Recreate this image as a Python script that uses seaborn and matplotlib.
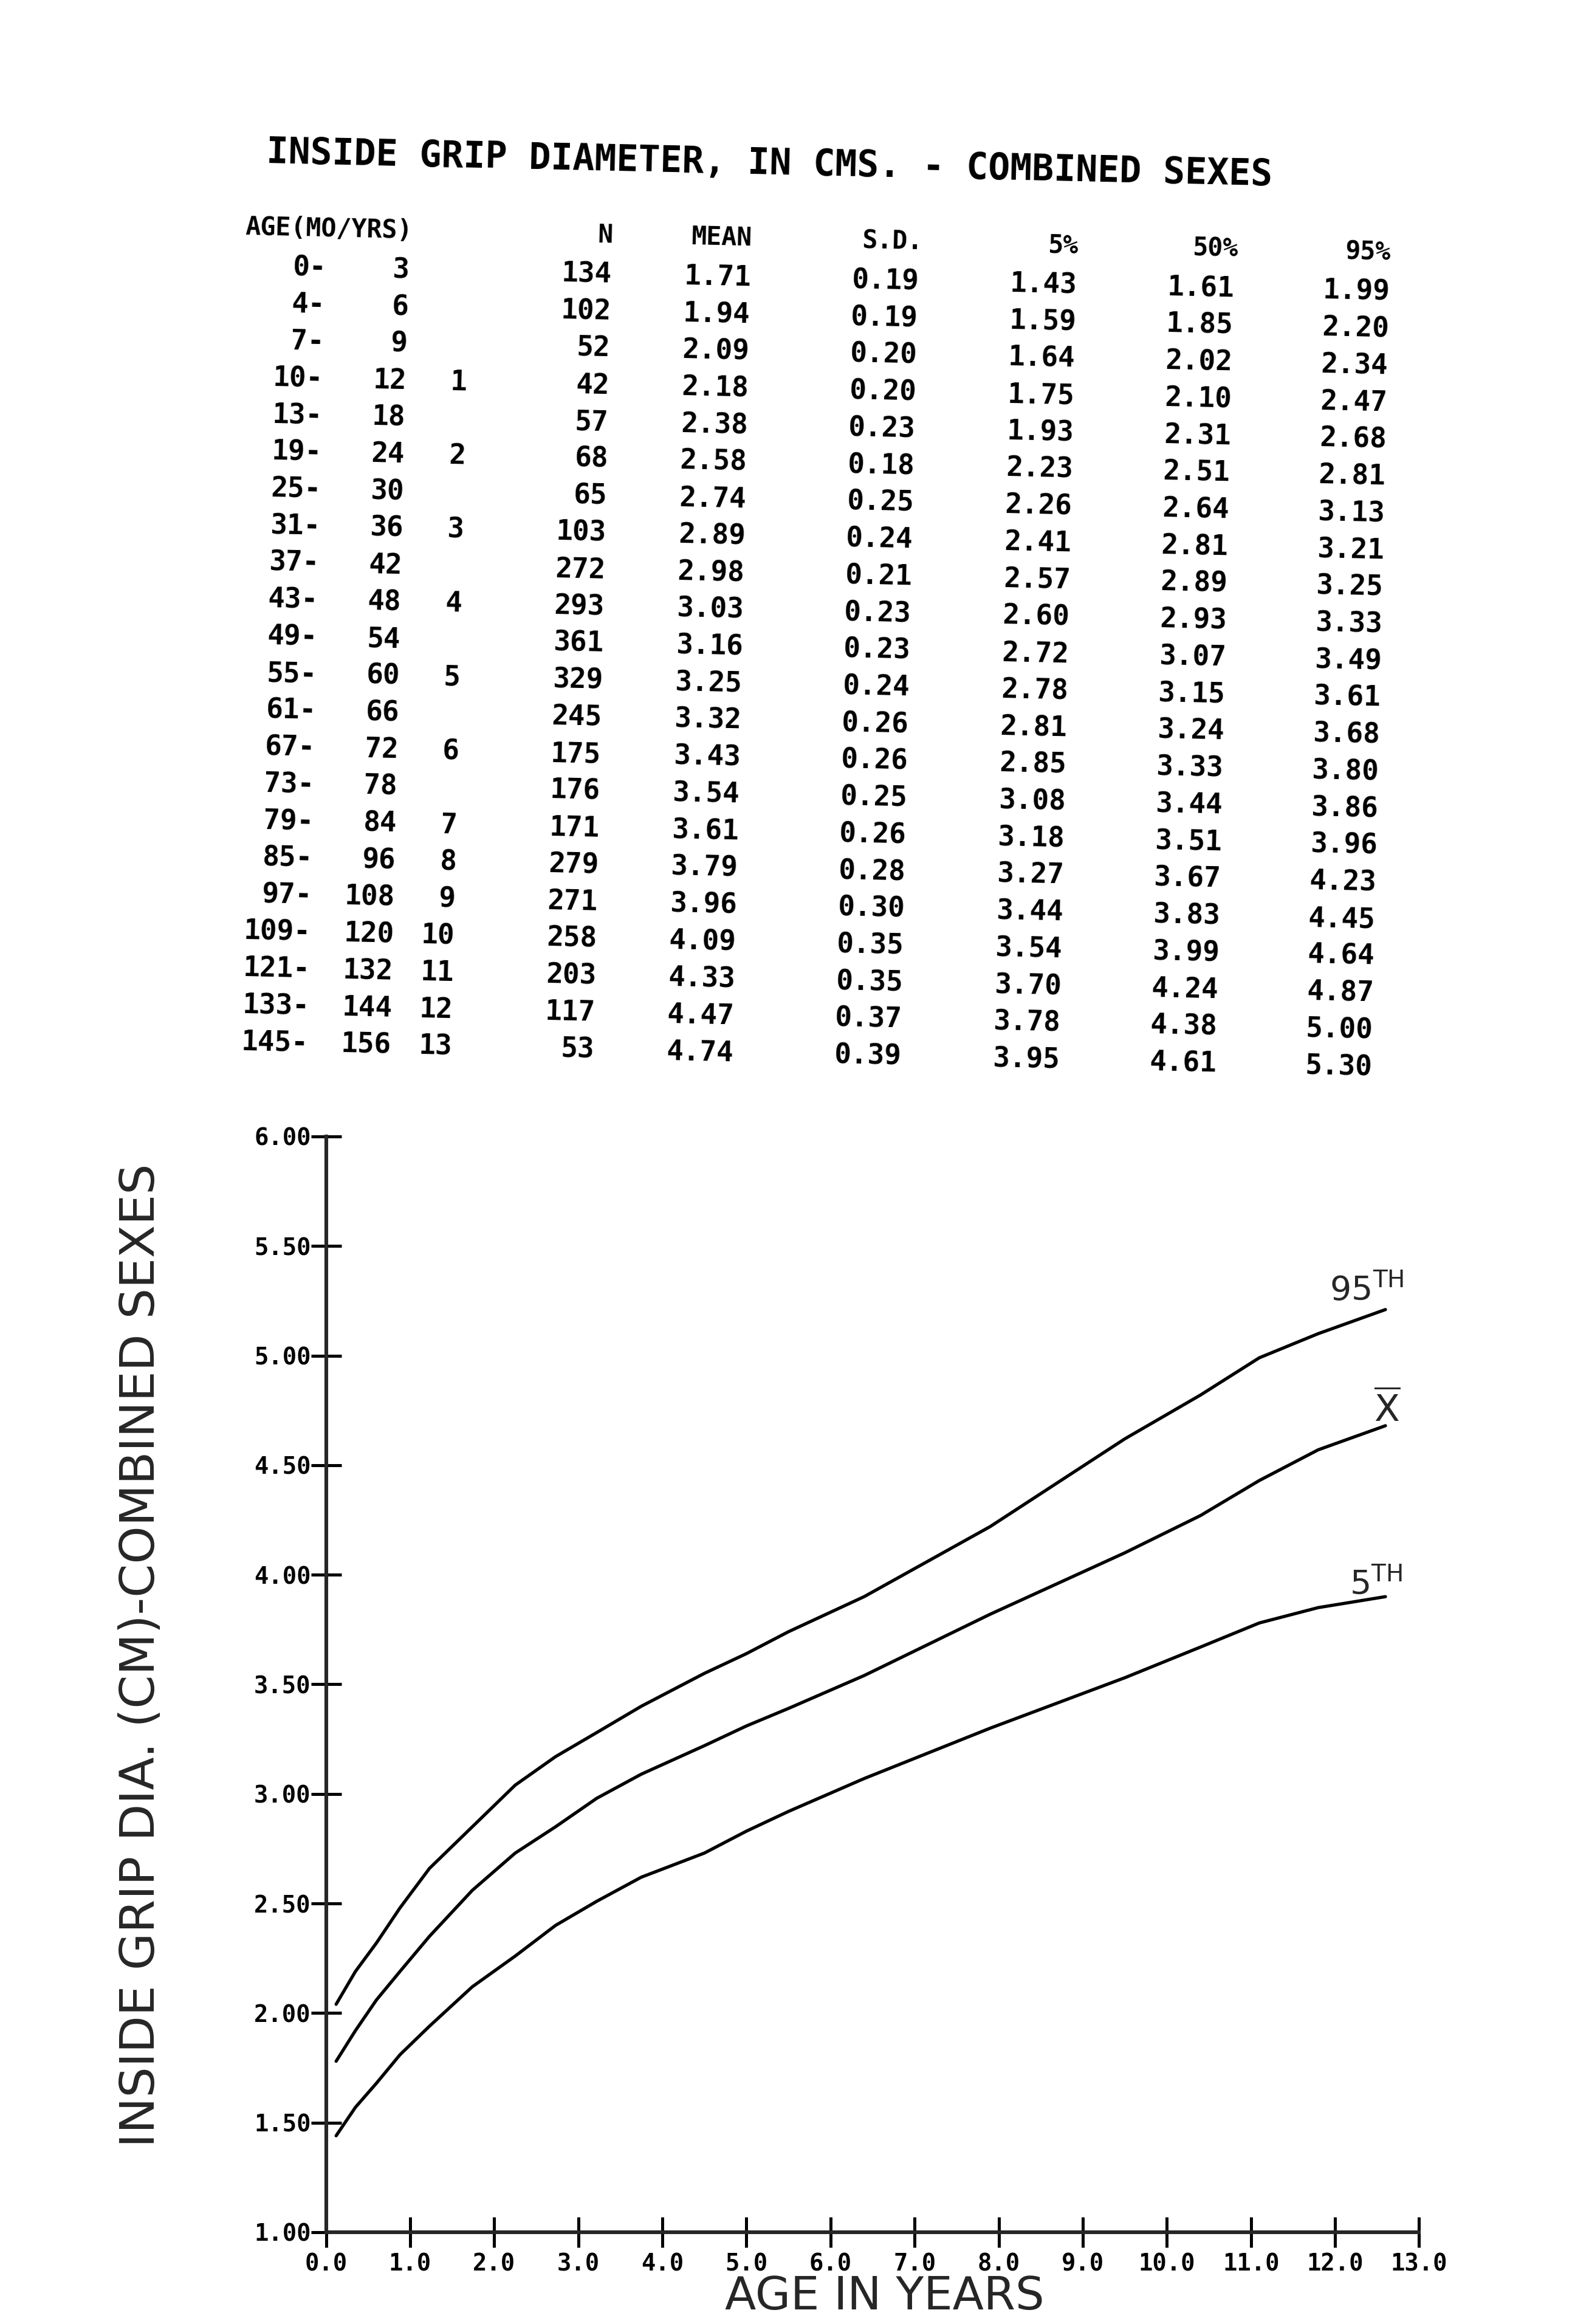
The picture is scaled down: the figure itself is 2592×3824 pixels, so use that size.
import numpy as np
import pandas as pd
import seaborn as sns
import matplotlib.pyplot as plt

# ---- table printed above the chart ----
age_lo = [0, 4, 7, 10, 13, 19, 25, 31, 37, 43, 49, 55, 61, 67, 73, 79, 85, 97, 109, 121, 133, 145]
age_hi = [3, 6, 9, 12, 18, 24, 30, 36, 42, 48, 54, 60, 66, 72, 78, 84, 96, 108, 120, 132, 144, 156]
age_yrs = ["", "", "", "1", "", "2", "", "3", "", "4", "", "5", "", "6", "", "7", "8", "9", "10", "11", "12", "13"]
n_obs = [134, 102, 52, 42, 57, 68, 65, 103, 272, 293, 361, 329, 245, 175, 176, 171, 279, 271, 258, 203, 117, 53]
mean_tab = [1.71, 1.94, 2.09, 2.18, 2.38, 2.58, 2.74, 2.89, 2.98, 3.03, 3.16, 3.25, 3.32, 3.43, 3.54, 3.61, 3.79, 3.96, 4.09, 4.33, 4.47, 4.74]
sd_tab = [0.19, 0.19, 0.20, 0.20, 0.23, 0.18, 0.25, 0.24, 0.21, 0.23, 0.23, 0.24, 0.26, 0.26, 0.25, 0.26, 0.28, 0.30, 0.35, 0.35, 0.37, 0.39]
p5_tab = [1.43, 1.59, 1.64, 1.75, 1.93, 2.23, 2.26, 2.41, 2.57, 2.60, 2.72, 2.78, 2.81, 2.85, 3.08, 3.18, 3.27, 3.44, 3.54, 3.70, 3.78, 3.95]
p50_tab = [1.61, 1.85, 2.02, 2.10, 2.31, 2.51, 2.64, 2.81, 2.89, 2.93, 3.07, 3.15, 3.24, 3.33, 3.44, 3.51, 3.67, 3.83, 3.99, 4.24, 4.38, 4.61]
p95_tab = [1.99, 2.20, 2.34, 2.47, 2.68, 2.81, 3.13, 3.21, 3.25, 3.33, 3.49, 3.61, 3.68, 3.80, 3.86, 3.96, 4.23, 4.45, 4.64, 4.87, 5.00, 5.30]

# ---- smoothed curves ----
curve_age = [0.12, 0.35, 0.6, 0.88, 1.23, 1.74, 2.25, 2.73, 3.22, 3.75, 4.5, 5.0, 5.5, 6.4, 7.9, 9.5, 10.4, 11.1, 11.8, 12.6]
curve_p95 = [2.04, 2.19, 2.32, 2.48, 2.66, 2.85, 3.04, 3.17, 3.28, 3.40, 3.55, 3.64, 3.74, 3.90, 4.22, 4.62, 4.82, 4.99, 5.10, 5.21]
curve_mean = [1.78, 1.92, 2.06, 2.19, 2.35, 2.56, 2.73, 2.85, 2.98, 3.09, 3.22, 3.31, 3.39, 3.54, 3.82, 4.10, 4.27, 4.43, 4.57, 4.68]
curve_p5 = [1.44, 1.57, 1.68, 1.81, 1.94, 2.12, 2.26, 2.40, 2.51, 2.62, 2.73, 2.83, 2.92, 3.07, 3.30, 3.53, 3.67, 3.78, 3.85, 3.90]

x_ticks = np.arange(0, 14, 1.0)
y_ticks = np.arange(1.0, 6.01, 0.5)

sns.set_style("ticks")
plt.rcParams['font.family'] = ['DejaVu Sans']

fig = plt.figure(figsize=(12.96, 19.12), dpi=200)

# the scan is turned a little, so the table is laid out on a tilted grid
W, H = 1063.0, 1568.0
tilt = 0.0225
rot = -np.degrees(np.arctan(tilt))
mono = dict(family='DejaVu Sans Mono', weight='bold', color='black')


def place(u, v):
    px = 200 + u - v * tilt
    py = 181 + u * tilt + v
    return px / W, 1 - py / H


def put(u, v, s, ha='right', size=16.5):
    x, y = place(u, v)
    fig.text(x, y, s, ha=ha, va='center', rotation=rot, rotation_mode='anchor', fontsize=size, **mono)


fig.text(180 / W, 1 - 103 / H, "INSIDE GRIP DIAMETER, IN CMS. - COMBINED SEXES",
         ha='left', va='center', rotation=rot, rotation_mode='anchor', fontsize=21.5, **mono)

hdr_v = -27
put(-35, hdr_v, "AGE(MO/YRS)", ha='left', size=15)
put(213, hdr_v, "N", size=15)
put(307, hdr_v, "MEAN", size=15)
put(422, hdr_v, "S.D.", size=15)
put(527, hdr_v, "5%", size=15)
put(635, hdr_v, "50%", size=15)
put(738, hdr_v, "95%", size=15)

row_step = 24.9
for i in range(len(age_lo)):
    v = i * row_step
    put(20, v, f"{age_lo[i]}-")
    put(76, v, f"{age_hi[i]}")
    put(117, v, age_yrs[i])
    put(213, v, f"{n_obs[i]}")
    put(307, v, f"{mean_tab[i]:.2f}")
    put(420, v, f"{sd_tab[i]:.2f}")
    put(527, v, f"{p5_tab[i]:.2f}")
    put(633, v, f"{p50_tab[i]:.2f}")
    put(738, v, f"{p95_tab[i]:.2f}")

# ---- chart ----
ax = fig.add_axes([0.207, 0.0395, 0.694, 0.4715])
n = len(curve_age)
df = pd.DataFrame({
    "age": curve_age * 3,
    "grip": curve_p95 + curve_mean + curve_p5,
    "curve": ["95th"] * n + ["mean"] * n + ["5th"] * n,
})
sns.lineplot(data=df, x="age", y="grip", hue="curve", palette=["black"] * 3,
             legend=False, sort=False, linewidth=1.9, ax=ax)

ax.set_xlim(0, 13)
ax.set_ylim(1, 6)
ax.set_xticks(x_ticks)
ax.set_xticklabels([f"{t:.1f}" for t in x_ticks])
ax.set_yticks(y_ticks)
ax.set_yticklabels([f"{t:.2f}" for t in y_ticks])
ax.set_xlabel("")
ax.set_ylabel("")
for s in ["top", "right"]:
    ax.spines[s].set_visible(False)
for s in ["left", "bottom"]:
    ax.spines[s].set_linewidth(2.2)
ax.tick_params(direction='inout', length=18, width=1.8, colors='black')
ax.tick_params(axis='x', pad=3)
ax.tick_params(axis='y', pad=0)
for lab in ax.get_xticklabels() + ax.get_yticklabels():
    lab.set_family('DejaVu Sans Mono')
    lab.set_fontweight('bold')
    lab.set_fontsize(14)

ax.text(12.82, 5.22, r"95$^{\mathrm{TH}}$", ha='right', va='bottom', fontsize=20)
ax.text(12.78, 4.75, r"$\overline{\mathrm{X}}$", ha='right', va='center', fontsize=22)
ax.text(12.8, 3.88, r"5$^{\mathrm{TH}}$", ha='right', va='bottom', fontsize=20)

fig.text(95 / W, 1 - 1117 / H, "INSIDE GRIP DIA. (CM)-COMBINED SEXES", rotation=90,
         ha='center', va='center', fontsize=28.5)
fig.text(597 / W, 0.002, "AGE IN YEARS", ha='center', va='bottom', fontsize=27)

fig.savefig("out.png", dpi=200, facecolor='white')
